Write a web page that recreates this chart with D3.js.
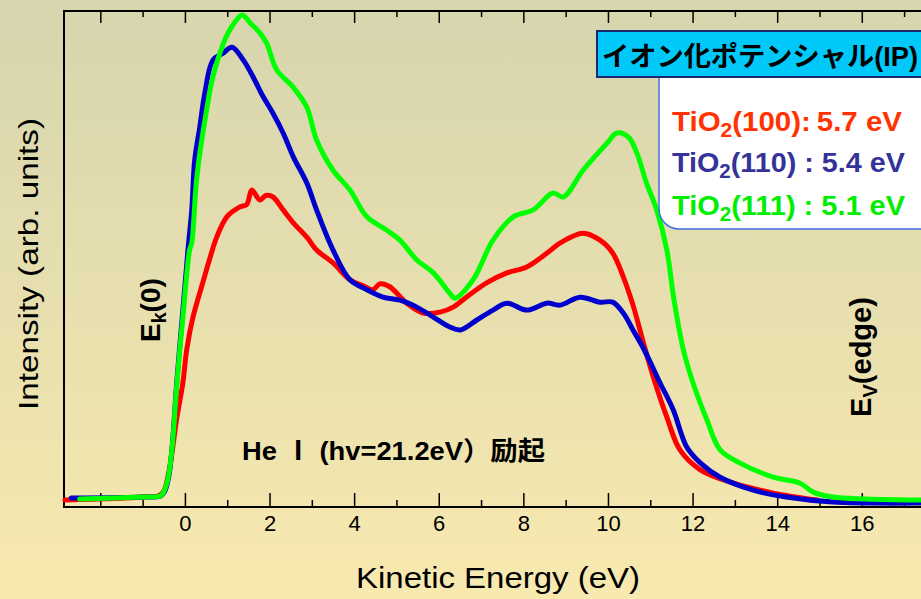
<!DOCTYPE html>
<html>
<head>
<meta charset="utf-8">
<script src="https://cdn.jsdelivr.net/npm/d3@7"></script>
<style>
  body { margin: 0; overflow: hidden; }
  text { font-family: Arial, "Liberation Sans", "Noto Sans CJK JP", sans-serif; }
</style>
</head>
<body>
<svg id="chart" width="921" height="599"></svg>
<script>
// Energy (eV) and intensity (arb. units, 0-100)
var redE = [-2.85,-1.0,-0.6,-0.5,-0.37,-0.2,-0.06,0.03,0.18,0.41,0.58,0.74,0.98,1.29,1.45,1.57,1.76,1.9,2.07,2.31,2.55,2.87,3.1,3.49,3.89,4.2,4.43,4.6,4.83,5.23,5.62,6.02,6.33,6.64,7.12,7.6,8.07,8.55,8.85,9.4,9.8,10.1,10.35,10.58,10.82,11.06,11.38,11.69,12.17,12.96,13.9,14.94];
var redI = [1.4,2.0,2.4,3.4,8.1,18.1,25.0,31.7,38.3,45.2,50.2,54.4,58.5,60.5,61.0,63.9,61.9,62.8,62.5,59.9,57.3,54.4,51.8,49.2,45.8,44.6,43.8,45.0,44.4,41.1,39.1,39.3,40.3,42.3,45.2,47.2,48.4,51.2,53.2,55.2,53.8,51.2,46.4,40.7,33.3,26.2,18.1,11.5,7.5,4.8,2.8,1.4];

var blueE = [-2.7,-1.0,-0.6,-0.5,-0.4,-0.32,-0.2,-0.06,0.06,0.15,0.22,0.34,0.46,0.65,0.89,1.1,1.37,1.6,1.84,2.07,2.31,2.55,2.87,3.1,3.49,3.89,4.29,4.67,5.07,5.47,5.86,6.25,6.5,6.89,7.27,7.6,8.07,8.55,8.85,9.33,9.8,10.1,10.35,10.58,10.82,11.22,11.53,11.85,12.17,12.64,13.42,14.2,15.3,17.4];
var blueI = [1.8,2.0,2.2,3.0,5.8,11.5,25.6,39.7,51.8,59.9,70.0,76.6,83.5,90.1,91.5,92.7,90.1,86.7,82.7,79.4,75.4,70.6,65.3,59.9,51.8,45.8,43.8,42.3,41.7,40.3,38.3,36.3,35.7,37.7,39.7,41.1,39.7,41.1,40.7,42.3,41.3,41.3,39.1,35.7,32.1,25.0,19.6,12.1,8.9,6.0,3.4,2.0,1.0,0.8];

var greenE = [-2.5,-1.0,-0.6,-0.53,-0.42,-0.32,-0.2,-0.06,0.1,0.15,0.27,0.5,0.65,0.9,1.05,1.34,1.53,1.76,1.92,2.16,2.54,2.87,3.1,3.49,3.89,4.29,4.76,5.07,5.47,5.86,6.25,6.37,6.8,7.27,7.75,8.22,8.69,8.93,9.4,9.97,10.2,10.47,10.67,10.9,11.14,11.38,11.55,11.77,12.0,12.33,12.64,13.1,13.9,14.53,14.84,15.3,16.1,17.4];
var greenI = [1.6,2.0,2.2,2.8,5.4,11.5,25.0,38.3,51.8,53.2,66.5,80.0,86.7,93.5,96.2,99.2,97.6,95.6,93.5,88.1,84.7,80.6,74.0,67.9,63.9,58.5,55.8,53.8,49.8,47.2,43.1,42.1,45.8,53.8,58.5,59.9,63.3,62.5,67.9,73.4,75.4,74.6,71.4,65.3,59.9,51.8,41.7,31.7,25.0,17.5,11.5,8.9,6.0,4.8,3.0,2.0,1.6,1.4];

var xTicks = [-2,-1,0,1,2,3,4,5,6,7,8,9,10,11,12,13,14,15,16,17];
var xLabels = [0,2,4,6,8,10,12,14,16];

var legendNames = ['TiO2(100)', 'TiO2(110)', 'TiO2(111)'];
var legendIP = [':\u20095.7 eV', ' : 5.4 eV', ' : 5.1 eV'];

var svg = d3.select('#chart');
var W = 921, H = 599;

var defs = svg.append('defs');
var grad = defs.append('linearGradient').attr('id', 'bg')
	.attr('x1', 0).attr('y1', 0).attr('x2', 0).attr('y2', 1);
grad.append('stop').attr('offset', '0%').attr('stop-color', '#d6d5ae');
grad.append('stop').attr('offset', '100%').attr('stop-color', '#f8e9af');

svg.append('rect').attr('width', W).attr('height', H).attr('fill', 'url(#bg)');

var x = d3.scaleLinear().domain([-2.87, 17.5]).range([64, 925.75]);
var y = d3.scaleLinear().domain([0, 100]).range([507, 11]);

// frame (right side runs off the page)
svg.append('path')
	.attr('d', 'M' + x(17.5) + ',' + y(100) + 'H' + x(-2.87) + 'V' + y(0) + 'H' + x(17.5))
	.attr('fill', 'none').attr('stroke', '#000').attr('stroke-width', 2);

// ticks on top and bottom, pointing inwards
xTicks.forEach(function(t){
	var major = (t % 2 == 0);
	svg.append('line')
		.attr('x1', x(t)).attr('x2', x(t))
		.attr('y1', y(0)).attr('y2', y(0) - (major ? 14 : 7))
		.attr('stroke', '#000').attr('stroke-width', 1.5);
	svg.append('line')
		.attr('x1', x(t)).attr('x2', x(t))
		.attr('y1', y(100)).attr('y2', y(100) + (major ? 12 : 6))
		.attr('stroke', '#000').attr('stroke-width', 1.5);
});

xLabels.forEach(function(t){
	svg.append('text')
		.attr('x', x(t)).attr('y', 531)
		.attr('text-anchor', 'middle')
		.attr('font-size', 22)
		.text(t);
});

svg.append('text')
	.attr('x', 498).attr('y', 588)
	.attr('text-anchor', 'middle')
	.attr('font-size', 29)
	.attr('textLength', 284).attr('lengthAdjust', 'spacingAndGlyphs')
	.text('Kinetic Energy (eV)');

svg.append('text')
	.attr('transform', 'rotate(-90)')
	.attr('x', -264).attr('y', 38)
	.attr('text-anchor', 'middle')
	.attr('font-size', 28)
	.attr('textLength', 292).attr('lengthAdjust', 'spacingAndGlyphs')
	.text('Intensity (arb. units)');

// spectra
var line = d3.line()
	.x(function(d){ return x(d[0]); })
	.y(function(d){ return y(d[1]); })
	.curve(d3.curveCatmullRom);

[[redE, redI, '#ff0000'], [blueE, blueI, '#0000cc'], [greenE, greenI, '#00ff00']].forEach(function(s){
	var pts = s[0].map(function(e, i){ return [e, s[1][i]]; });
	svg.append('path')
		.datum(pts)
		.attr('d', line)
		.attr('fill', 'none')
		.attr('stroke', s[2])
		.attr('stroke-width', 5)
		.attr('stroke-linejoin', 'round')
		.attr('stroke-linecap', 'round');
});

// annotations
function rotLabel(px, py, main, sub, rest, fs){
	var t = svg.append('text')
		.attr('transform', 'translate(' + px + ',' + py + ') rotate(-90)')
		.attr('font-size', fs)
		.attr('font-weight', 'bold');
	t.append('tspan').text(main);
	t.append('tspan').attr('font-size', fs * 0.7).attr('dy', 6).text(sub);
	t.append('tspan').attr('dy', -6).text(rest);
}
rotLabel(160, 342, 'E', 'k', '(0)', 28);
rotLabel(871, 417, 'E', 'V', '(edge)', 29);

svg.append('text')
	.attr('x', 242).attr('y', 460)
	.attr('font-size', 26)
	.attr('font-weight', 'bold')
	.attr('textLength', 303).attr('lengthAdjust', 'spacingAndGlyphs')
	.text('He \u2160 (hv=21.2eV\uFF09励起');

// legend
svg.append('rect')
	.attr('x', 659).attr('y', 60).attr('width', 300).attr('height', 169)
	.attr('rx', 20).attr('ry', 20)
	.attr('fill', '#fff').attr('stroke', '#3f6fe0').attr('stroke-width', 1.5);

svg.append('rect')
	.attr('x', 597).attr('y', 31).attr('width', 330).attr('height', 46)
	.attr('fill', '#00c8f8').attr('stroke', '#1a2870').attr('stroke-width', 2);

svg.append('text')
	.attr('x', 602).attr('y', 66)
	.attr('font-size', 27)
	.attr('font-weight', 'bold')
	.attr('textLength', 316).attr('lengthAdjust', 'spacingAndGlyphs')
	.text('イオン化ポテンシャル(IP)');

var legendColors = ['#ff3300', '#333399', '#00ee00'];
var legendY = [131, 172, 215];
var legendLen = [230, 233, 233];
legendNames.forEach(function(n, i){
	var t = svg.append('text')
		.attr('x', 672).attr('y', legendY[i])
		.attr('font-size', 28)
		.attr('font-weight', 'bold')
		.attr('fill', legendColors[i])
		.attr('textLength', legendLen[i]).attr('lengthAdjust', 'spacingAndGlyphs');
	t.append('tspan').text('TiO');
	t.append('tspan').attr('font-size', 20).attr('dy', 6).text('2');
	t.append('tspan').attr('dy', -6).text(n.slice(4) + legendIP[i]);
});
</script>
</body>
</html>
